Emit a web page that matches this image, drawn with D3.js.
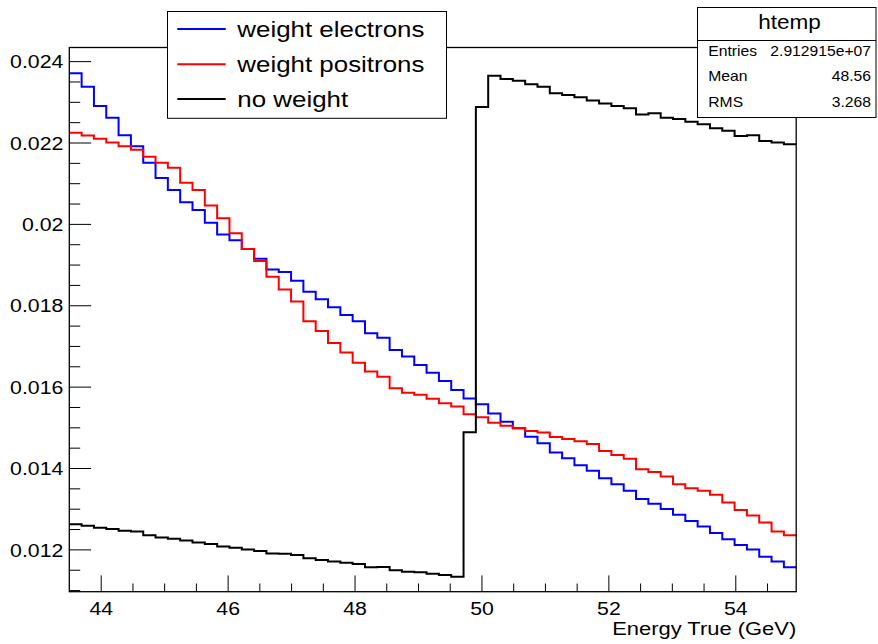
<!DOCTYPE html>
<html><head><meta charset="utf-8">
<script src="https://cdn.jsdelivr.net/npm/d3@7"></script>
<style>
html,body{margin:0;padding:0;background:#fff;}
svg text{font-family:"Liberation Sans",Arial,Helvetica,sans-serif;fill:#000;}
</style></head>
<body><svg id="c" width="878" height="644"></svg>
<script>
// ---- data ----
const xLow = 43.505, binWidth = 0.19415; // first shown bin edge and bin width (GeV)
const xTicks = [44, 46, 48, 50, 52, 54];
const xMinor = [44.5,45,45.5,46.5,47,47.5,48.5,49,49.5,50.5,51,51.5,52.5,53,53.5,54.5];
const yTicks = [0.012, 0.014, 0.016, 0.018, 0.020, 0.022, 0.024];
const yTickLabels = ["0.012","0.014","0.016","0.018","0.02","0.022","0.024"];
const yMinor = [0.0110,0.0115,0.0125,0.0130,0.0135,0.0145,0.0150,0.0155,0.0165,0.0170,0.0175,0.0185,0.0190,0.0195,0.0205,0.0210,0.0215,0.0225,0.0230,0.0235];
const weightElectrons = [0.02370,0.02337,0.02290,0.02261,0.02218,0.02191,0.02150,0.02113,0.02083,0.02053,
  0.02034,0.02003,0.01974,0.01960,0.01938,0.01914,0.01888,0.01882,0.01860,0.01833,
  0.01815,0.01795,0.01776,0.01761,0.01731,0.01720,0.01690,0.01674,0.01653,0.01634,
  0.01614,0.01592,0.01571,0.01557,0.01534,0.01514,0.01498,0.01477,0.01461,0.01438,
  0.01424,0.01407,0.01393,0.01375,0.01360,0.01344,0.01324,0.01312,0.01299,0.01285,
  0.01270,0.01256,0.01240,0.01225,0.01211,0.01200,0.01182,0.01170,0.01156];
const weightPositrons = [0.02224,0.02217,0.02209,0.02200,0.02191,0.02182,0.02165,0.02150,0.02138,0.02101,
  0.02083,0.02045,0.02014,0.01977,0.01938,0.01909,0.01870,0.01839,0.01809,0.01761,
  0.01737,0.01707,0.01684,0.01659,0.01637,0.01624,0.01596,0.01585,0.01580,0.01570,
  0.01559,0.01551,0.01532,0.01525,0.01511,0.01504,0.01498,0.01491,0.01487,0.01476,
  0.01471,0.01466,0.01459,0.01442,0.01432,0.01423,0.01397,0.01390,0.01379,0.01360,
  0.01350,0.01344,0.01334,0.01315,0.01297,0.01283,0.01266,0.01244,0.01235];
const noWeight = [0.01262,0.01258,0.01253,0.01250,0.01246,0.01244,0.01235,0.01229,0.01226,0.01222,
  0.01217,0.01213,0.01207,0.01204,0.01200,0.01196,0.01190,0.01189,0.01186,0.01178,
  0.01174,0.01170,0.01167,0.01164,0.01156,0.01157,0.01149,0.01145,0.01144,0.01140,
  0.01137,0.01133,0.01488,0.02287,0.02364,0.02356,0.02352,0.02343,0.02337,0.02321,
  0.02317,0.02311,0.02303,0.02296,0.02290,0.02284,0.02269,0.02272,0.02261,0.02258,
  0.02251,0.02245,0.02235,0.02229,0.02216,0.02218,0.02204,0.02200,0.02196];
const seriesNames = ["weight electrons","weight positrons","no weight"];
const seriesColors = ["#0000ff","#ff0000","#000000"];
const statsTitle = "htemp";
const statsLabels = ["Entries","Mean","RMS"];
const statsValues = ["2.912915e+07","48.56","3.268"];
const xTitle = "Energy True (GeV)";

// ---- layout ----
const F = {l:69.3, r:796.2, t:47.5, b:591.7};
const nb = weightElectrons.length;
const x = d3.scaleLinear().domain([xLow, xLow + nb*binWidth]).range([F.l, F.r]);
const y = d3.scaleLinear().domain([0.01096, 0.024335]).range([F.b, F.t]);
const svg = d3.select("#c");

function stretchText(sel, sx){
  sel.each(function(){
    const t = d3.select(this);
    const cur = t.attr("transform") || "";
    t.attr("transform", cur + ` scale(${sx},1)`);
  });
}

// histograms
const line = d3.line().x(d=>x(d[0])).y(d=>y(d[1])).curve(d3.curveStepAfter);
[weightElectrons, weightPositrons, noWeight].forEach((vals,k)=>{
  const pts = vals.map((v,i)=>[xLow + i*binWidth, v]);
  pts.push([xLow + nb*binWidth, vals[nb-1]]);
  svg.append("path").attr("d", line(pts)).attr("fill","none")
    .attr("stroke", seriesColors[k]).attr("stroke-width", 2).attr("stroke-linejoin","miter");
});

// axes
const gx = svg.append("g").attr("transform",`translate(0,${F.b})`)
  .call(d3.axisBottom(x).tickValues(xTicks).tickSize(-16.3).tickSizeOuter(0).tickPadding(10.2).tickFormat(d3.format("d")));
gx.selectAll("text").style("font-size","18.5px");
stretchText(gx.selectAll("text"), 1.15);
svg.append("g").attr("transform",`translate(0,${F.b})`)
  .call(d3.axisBottom(x).tickValues(xMinor).tickSize(-8.2).tickSizeOuter(0).tickFormat(""));
const gy = svg.append("g").attr("transform",`translate(${F.l},0)`)
  .call(d3.axisLeft(y).tickValues(yTicks).tickSize(-21.8).tickSizeOuter(0).tickPadding(5.2)
    .tickFormat((d,i)=>yTickLabels[i]));
gy.selectAll("text").style("font-size","18.5px").attr("dy","0.36em");
stretchText(gy.selectAll("text"), 1.15);
svg.append("g").attr("transform",`translate(${F.l},0)`)
  .call(d3.axisLeft(y).tickValues(yMinor).tickSize(-10.9).tickSizeOuter(0).tickFormat(""));
svg.selectAll(".domain").remove();
svg.selectAll(".tick line").attr("stroke","#000").attr("stroke-width",1);

// frame
svg.append("rect").attr("x",F.l).attr("y",F.t).attr("width",F.r-F.l).attr("height",F.b-F.t)
  .attr("fill","none").attr("stroke","#000").attr("stroke-width",1.3);

// axis title
svg.append("text").attr("transform",`translate(${F.r},634.5) scale(1.18,1)`)
  .attr("text-anchor","end").style("font-size","18.6px").text(xTitle);

// legend
const lg = svg.append("g");
lg.append("rect").attr("x",167.5).attr("y",11.5).attr("width",279).attr("height",106.8)
  .attr("fill","#fff").attr("stroke","#000").attr("stroke-width",1);
const rowsY = [29, 64.3, 99];
seriesNames.forEach((n,i)=>{
  lg.append("line").attr("x1",177.3).attr("x2",225.7).attr("y1",rowsY[i]).attr("y2",rowsY[i])
    .attr("stroke",seriesColors[i]).attr("stroke-width",2);
  lg.append("text").attr("transform",`translate(237.3,${rowsY[i]+7.6}) scale(1.21,1)`)
    .style("font-size","21.4px").text(n);
});

// stats box
const sb = svg.append("g");
sb.append("rect").attr("x",697.5).attr("y",7.5).attr("width",178.5).attr("height",110)
  .attr("fill","#fff").attr("stroke","#000").attr("stroke-width",1);
sb.append("line").attr("x1",697.5).attr("x2",876).attr("y1",40.5).attr("y2",40.5).attr("stroke","#000");
sb.append("text").attr("transform",`translate(789.5,29) scale(1.15,1)`).attr("text-anchor","middle")
  .style("font-size","19.6px").text(statsTitle);
const sRows = [55.5, 81.3, 107];
statsLabels.forEach((l,i)=>{
  sb.append("text").attr("transform",`translate(708.3,${sRows[i]}) scale(1.12,1)`)
    .style("font-size","14px").text(l);
  sb.append("text").attr("transform",`translate(871,${sRows[i]}) scale(1.12,1)`).attr("text-anchor","end")
    .style("font-size","14px").text(statsValues[i]);
});
</script></body></html>
